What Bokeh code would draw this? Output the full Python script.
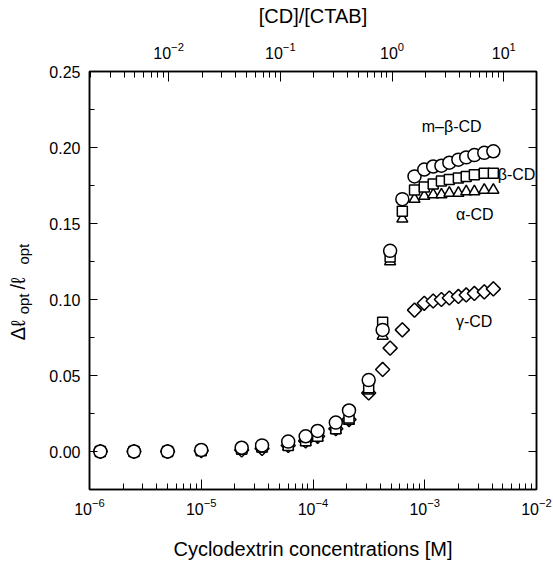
import math
from bokeh.plotting import figure
from bokeh.layouts import row
from bokeh.models import (Range1d, LogScale, LogAxis, LinearAxis, SingleIntervalTicker,
                          PrintfTickFormatter, Label, LogTicker, CustomJSTickFormatter)
from bokeh.embed import file_html
from bokeh.resources import INLINE

# Cyclodextrin concentration [M]
conc = [1.25e-6, 2.5e-6, 5e-6, 1e-5, 2.3e-5, 3.5e-5, 6e-5, 8.6e-5, 1.1e-4, 1.6e-4,
        2.1e-4, 3.15e-4, 4.2e-4, 4.9e-4, 6.3e-4, 8.1e-4, 9.9e-4, 1.19e-3, 1.41e-3,
        1.66e-3, 2.0e-3, 2.35e-3, 2.78e-3, 3.41e-3, 4.11e-3]
m_beta_cd = [0.0, 0.0, 0.0, 0.001, 0.0025, 0.004, 0.0065, 0.010, 0.0135, 0.019,
             0.027, 0.047, 0.080, 0.132, 0.166, 0.181, 0.1855, 0.1875, 0.188, 0.190,
             0.192, 0.1935, 0.195, 0.1965, 0.1975]
beta_cd = [0.0, 0.0, 0.0, 0.0005, 0.0015, 0.003, 0.004, 0.007, 0.010, 0.015,
           0.022, 0.042, 0.085, 0.128, 0.158, 0.172, 0.174, 0.176, 0.178, 0.179,
           0.180, 0.181, 0.182, 0.183, 0.183]
alpha_cd = [0.0, 0.0, 0.0, 0.0005, 0.001, 0.002, 0.003, 0.006, 0.009, 0.014,
            0.020, 0.040, 0.076, 0.125, 0.153, 0.166, 0.168, 0.169, 0.169, 0.170,
            0.170, 0.171, 0.171, 0.172, 0.172]
gamma_cd = [0.0, 0.0, 0.0, 0.0005, 0.001, 0.002, 0.004, 0.007, 0.010, 0.015,
            0.021, 0.0385, 0.054, 0.068, 0.080, 0.093, 0.0975, 0.099, 0.100, 0.101,
            0.102, 0.103, 0.104, 0.105, 0.107]
ctab = 5.1e-4  # [CTAB] in M, for the top ratio axis

FONT = "Liberation Sans"
LEFT_W = 46
H = 562
TOP, BOTTOM = 71, 491  # frame edges (px from top)

p = figure(width=553 - LEFT_W, height=H, x_axis_type="log", x_range=Range1d(1e-6, 1e-2),
           y_range=Range1d(-0.025, 0.25), output_backend="svg", toolbar_location=None,
           min_border_left=88 - LEFT_W, min_border_right=17, min_border_top=TOP,
           min_border_bottom=H - BOTTOM, background_fill_color="white",
           border_fill_color="white")
p.xgrid.visible = False
p.ygrid.visible = False
p.outline_line_color = "black"
p.outline_line_width = 1.5

def style_axis(ax, major_in=10, minor_in=6):
    ax.axis_line_color = "black"
    ax.axis_line_width = 1.5
    ax.major_tick_in = major_in
    ax.major_tick_out = 0
    ax.minor_tick_in = minor_in
    ax.minor_tick_out = 0
    ax.major_tick_line_color = "black"
    ax.minor_tick_line_color = "black"
    ax.major_tick_line_width = 1
    ax.minor_tick_line_width = 1
    ax.major_label_text_font = FONT
    ax.major_label_text_font_size = "16px"
    ax.major_label_text_color = "black"
    ax.axis_label_text_font = FONT
    ax.axis_label_text_font_size = "20px"
    ax.axis_label_text_font_style = "normal"
    ax.axis_label_text_color = "black"

# bottom
xb = p.xaxis[0]
style_axis(xb)
xb.ticker = LogTicker(num_minor_ticks=10)
xb.axis_label = "Cyclodextrin concentrations [M]"
xb.major_label_standoff = 8
xb.axis_label_standoff = 20

# left
yl = p.yaxis[0]
style_axis(yl, major_in=8, minor_in=5)
yl.ticker = SingleIntervalTicker(interval=0.05, num_minor_ticks=2)
yl.formatter = PrintfTickFormatter(format="%.2f")
yl.major_label_standoff = 9

# top ratio axis
p.extra_x_ranges = {"ratio": Range1d(1e-6 / ctab, 1e-2 / ctab)}
p.extra_x_scales = {"ratio": LogScale()}
xt = LogAxis(x_range_name="ratio", axis_label="[CD]/[CTAB]")
style_axis(xt)
xt.ticker = LogTicker(num_minor_ticks=10)
xt.major_label_standoff = 13
xt.axis_label_standoff = 12
p.add_layout(xt, "above")

# right mirror axis (ticks only, no labels)
yr = LinearAxis(ticker=SingleIntervalTicker(interval=0.05, num_minor_ticks=2),
                formatter=CustomJSTickFormatter(code="return '';"))
style_axis(yr, major_in=8, minor_in=5)
yr.major_label_standoff = 0
p.add_layout(yr, "right")

# data
common = dict(fill_color="white", line_color="black", line_width=1.5)
p.scatter(conc, gamma_cd, marker="square", angle=math.pi / 4, size=10, **common)
p.scatter(conc, alpha_cd, marker="triangle", size=11, **common)
p.scatter(conc, beta_cd, marker="square", size=10, **common)
p.scatter(conc, m_beta_cd, marker="circle", size=13, **common)

# series labels
def lab(text, x, y):
    p.add_layout(Label(x=x, y=y, text=text, text_font=FONT, text_font_size="16px",
                       text_color="black", text_baseline="middle", text_align="left"))

lab("m\u2013\u03b2-CD", 9.4e-4, 0.214)
lab("\u03b2-CD", 4.5e-3, 0.182)
lab("\u03b1-CD", 1.9e-3, 0.156)
lab("\u03b3-CD", 1.9e-3, 0.0855)

# y-axis title: a narrow figure to the left of the plot; its frame is aligned
# with the main frame (rows TOP..BOTTOM), data y = pixels measured from the bottom
q = figure(width=LEFT_W, height=H, x_range=Range1d(0, LEFT_W), y_range=Range1d(H - BOTTOM, H - TOP),
           output_backend="svg", toolbar_location=None, x_axis_location=None,
           y_axis_location=None, min_border=0, min_border_top=TOP,
           min_border_bottom=H - BOTTOM, outline_line_color=None,
           background_fill_color="white", border_fill_color="white")
q.xgrid.visible = False
q.ygrid.visible = False

def ylab(text, x_px, y_px_from_top, size):
    q.add_layout(Label(x=x_px, y=H - y_px_from_top, text=text, text_font=FONT,
                       text_font_size=size, text_color="black", angle=90,
                       angle_units="deg", text_baseline="alphabetic", text_align="left"))

ylab("\u0394\u2113", 17, 341, "20px")
ylab("opt", 23, 315, "15px")
ylab("/\u2113", 17, 290, "20px")
ylab("opt", 23, 265, "15px")

layout = row(q, p)
open("out.html", "w").write(file_html(layout, INLINE))
